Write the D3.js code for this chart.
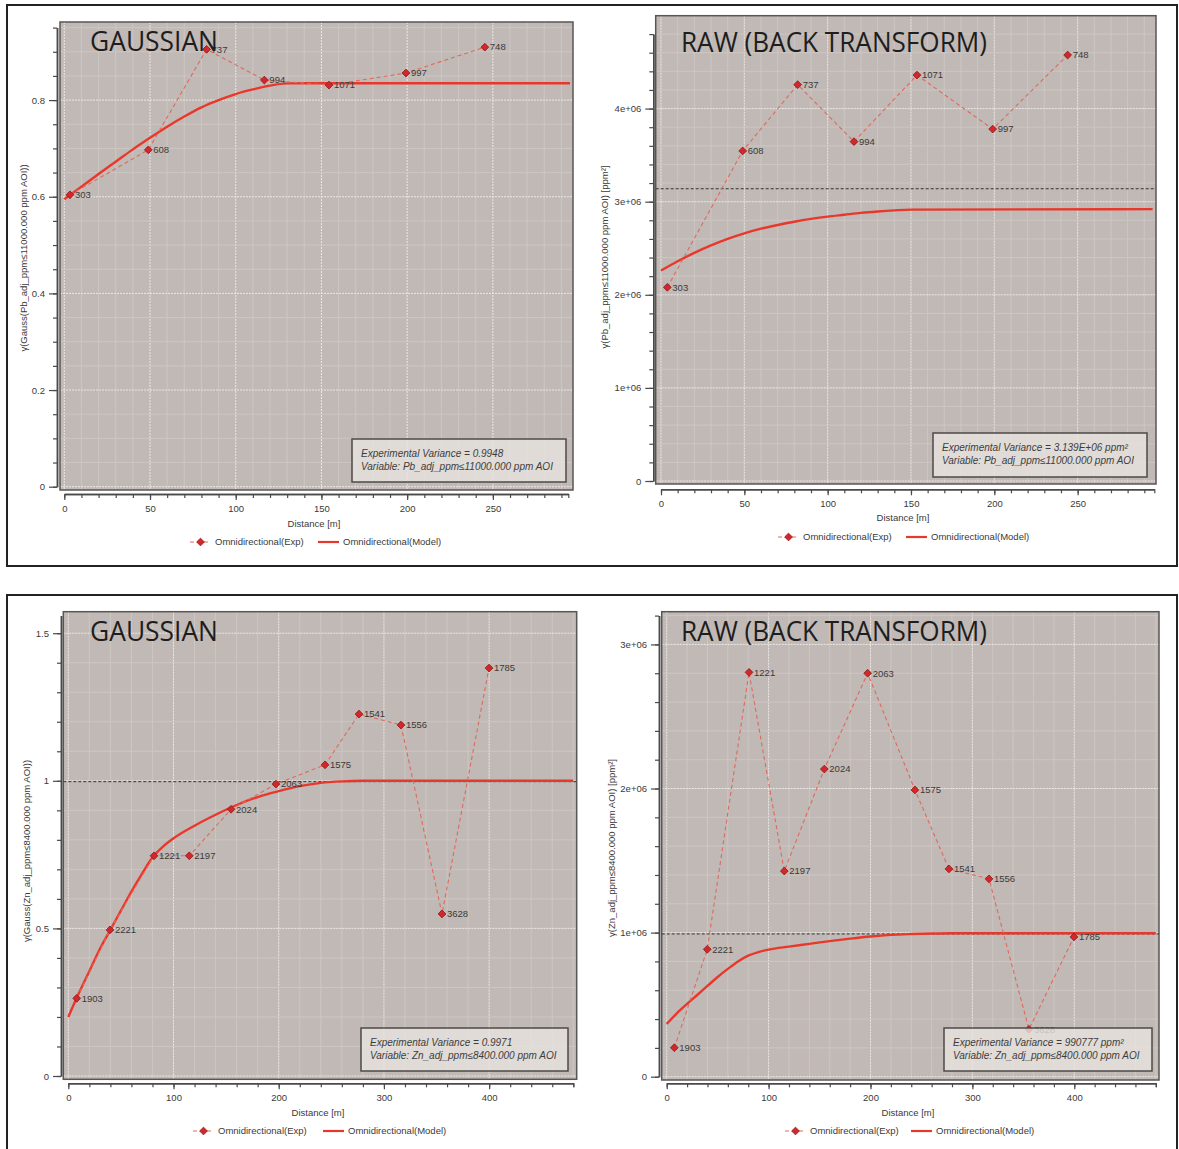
<!DOCTYPE html>
<html><head><meta charset="utf-8">
<script src="https://cdn.jsdelivr.net/npm/d3@7"></script>
<style>body{margin:0;background:#fff;} svg{display:block;}</style>
</head><body><svg id="c" width="1179" height="1149"></svg>
<script>
// ---------------- DATA ----------------
const pbPairs = ["303","608","737","994","1071","997","748"];
const pbGaussLag = [3.3, 49, 83, 116.7, 154.4, 199.3, 245.3];
const pbGaussGamma = [0.604, 0.697, 0.905, 0.8415, 0.831, 0.856, 0.9095];
const pbGaussModelLag = [0,10,20,30,40,50,60,70,80,90,100,110,120,130,140,295];
const pbGaussModelGamma = [0.595,0.621,0.647,0.6725,0.698,0.722,0.745,0.766,0.785,0.80,0.8125,0.822,0.83,0.8345,0.835,0.835];

const pbRawLag = [3.8, 49, 82, 115.8, 153.6, 199, 244];
const pbRawGamma = [2.08e6, 3.545e6, 4.257e6, 3.645e6, 4.36e6, 3.78e6, 4.575e6];
const pbRawModelLag = [0,10,20,30,40,50,60,70,80,90,100,110,120,130,140,150,295];
const pbRawModelGamma = [2.26e6,2.36e6,2.45e6,2.53e6,2.60e6,2.66e6,2.71e6,2.75e6,2.785e6,2.815e6,2.84e6,2.86e6,2.88e6,2.895e6,2.907e6,2.915e6,2.92e6];
const pbRawSill = 3.139e6;

const znPairs = ["1903","2221","1221","2197","2024","2063","1575","1541","1556","3628","1785"];
const znGaussLag = [8, 39.6, 81.5, 115, 154.7, 197.4, 244, 276.3, 316.2, 355.2, 399.9];
const znGaussGamma = [0.263, 0.495, 0.746, 0.746, 0.9035, 0.989, 1.054, 1.226, 1.189, 0.549, 1.382];
const znGaussModelLag = [0,10,20,30,40,50,60,70,80,90,100,120,140,160,180,200,220,240,260,280,480];
const znGaussModelGamma = [0.2,0.28,0.355,0.43,0.495,0.56,0.625,0.685,0.74,0.777,0.805,0.848,0.885,0.918,0.945,0.965,0.982,0.993,0.998,1.0,1.0];
const znGaussSill = 0.9971;

const znRawLag = [7.5, 39.8, 80.8, 115.4, 154.7, 197.2, 243.6, 277, 316.3, 355.5, 399.7];
const znRawGamma = [0.201e6, 0.884e6, 2.806e6, 1.427e6, 2.135e6, 2.80e6, 1.99e6, 1.442e6, 1.373e6, 0.329e6, 0.97e6];
const znRawModelLag = [0,10,20,30,40,50,60,70,80,90,100,120,140,160,180,200,220,240,260,280,480];
const znRawModelGamma = [0.366e6,0.44e6,0.505e6,0.567e6,0.63e6,0.692e6,0.748e6,0.80e6,0.84e6,0.865e6,0.882e6,0.903e6,0.922e6,0.941e6,0.958e6,0.973e6,0.984e6,0.99e6,0.994e6,0.996e6,0.996e6];
const znRawSill = 990777;

const titles = ["GAUSSIAN", "RAW (BACK TRANSFORM)", "GAUSSIAN", "RAW (BACK TRANSFORM)"];
const yTitles = ["γ(Gauss(Pb_adj_ppm≤11000.000 ppm AOI))", "γ(Pb_adj_ppm≤11000.000 ppm AOI) [ppm²]",
                 "γ(Gauss(Zn_adj_ppm≤8400.000 ppm AOI))", "γ(Zn_adj_ppm≤8400.000 ppm AOI) [ppm²]"];
const infoLines = [
  ["Experimental Variance = 0.9948", "Variable: Pb_adj_ppm≤11000.000 ppm AOI"],
  ["Experimental Variance = 3.139E+06 ppm²", "Variable: Pb_adj_ppm≤11000.000 ppm AOI"],
  ["Experimental Variance = 0.9971", "Variable: Zn_adj_ppm≤8400.000 ppm AOI"],
  ["Experimental Variance = 990777 ppm²", "Variable: Zn_adj_ppm≤8400.000 ppm AOI"]];
const xTitle = "Distance [m]";
const legendLabels = ["Omnidirectional(Exp)", "Omnidirectional(Model)"];

// ---------------- DRAW ----------------
const svg = d3.select("#c");
const FONT = "'Liberation Sans', Arial, sans-serif";
const BG = "#c1b9b5";

svg.append("rect").attr("x",0).attr("y",0).attr("width",1179).attr("height",1149).attr("fill","#fff");
svg.append("rect").attr("x",7).attr("y",5).attr("width",1170).attr("height",561).attr("fill","none").attr("stroke","#222").attr("stroke-width",2);
svg.append("rect").attr("x",7).attr("y",595).attr("width",1170).attr("height",570).attr("fill","none").attr("stroke","#222").attr("stroke-width",2);

const sciFmt = v => v === 0 ? "0" : (v/1e6) + "e+06";

const panels = [
  {lag: pbGaussLag, gamma: pbGaussGamma, pairs: pbPairs, mLag: pbGaussModelLag, mGamma: pbGaussModelGamma, sill: null,
   plot:[60,22,573,490], xDom:[0,294], xRan:[64.3,568.3], yDom:[0,0.95], yRan:[486.7,27.6],
   xMinor:10, xMajor:50, yMinor:0.05, yMajor:0.2, fmt: v => String(+v.toFixed(2)),
   yAxisX:57, xAxisY:494, title:[90,51], yTitle:[27,258], xTitleXY:[314,527], info:[352,439,566,482],
   legend:[190,542], legend2:318, idx:0},
  {lag: pbRawLag, gamma: pbRawGamma, pairs: pbPairs, mLag: pbRawModelLag, mGamma: pbRawModelGamma, sill: pbRawSill,
   plot:[655.7,15.7,1156,484], xDom:[0,296], xRan:[661,1154.3], yDom:[0,4.8e6], yRan:[481,34.1],
   xMinor:10, xMajor:50, yMinor:0.2e6, yMajor:1e6, fmt: sciFmt,
   yAxisX:653.3, xAxisY:489.3, title:[681,52], yTitle:[608,257], xTitleXY:[903,521], info:[933,433,1147,477],
   legend:[778,537], legend2:906, idx:1},
  {lag: znGaussLag, gamma: znGaussGamma, pairs: znPairs, mLag: znGaussModelLag, mGamma: znGaussModelGamma, sill: znGaussSill,
   plot:[63.3,611.7,576.7,1079.3], xDom:[0,480], xRan:[68.3,573.3], yDom:[0,1.56], yRan:[1076,615.5],
   xMinor:20, xMajor:100, yMinor:0.1, yMajor:0.5, fmt: v => String(+v.toFixed(2)),
   yAxisX:61, xAxisY:1083.3, title:[90,641], yTitle:[30,851], xTitleXY:[318,1116], info:[361,1028,568,1071],
   legend:[193,1131], legend2:323, idx:2},
  {lag: znRawLag, gamma: znRawGamma, pairs: znPairs, mLag: znRawModelLag, mGamma: znRawModelGamma, sill: znRawSill,
   plot:[661.7,611.7,1159,1080], xDom:[0,480], xRan:[666.7,1155.8], yDom:[0,3.2e6], yRan:[1076.7,615.6],
   xMinor:20, xMajor:100, yMinor:0.2e6, yMajor:1e6, fmt: sciFmt,
   yAxisX:659, xAxisY:1083.3, title:[681,641], yTitle:[615,848], xTitleXY:[908,1116], info:[944,1028,1152,1071],
   legend:[785,1131], legend2:911, idx:3}
];

function steps(max, step) {
  const n = Math.floor(max/step + 1e-6);
  return d3.range(0, n+1).map(i => +(i*step).toFixed(6));
}
const diamond = d3.symbol().type(d3.symbolSquare).size(30);
function marker(sel) {
  sel.attr("d", diamond).attr("fill","#d4262b").attr("stroke","#8e1b1b").attr("stroke-width",0.8);
}

panels.forEach((p, k) => {
  const g = svg.append("g");
  const x = d3.scaleLinear().domain(p.xDom).range(p.xRan);
  const y = d3.scaleLinear().domain(p.yDom).range(p.yRan);
  const [px0, py0, px1, py1] = p.plot;

  g.append("rect").attr("x",px0).attr("y",py0).attr("width",px1-px0).attr("height",py1-py0)
    .attr("fill",BG);

  const clipId = "clip"+k;
  g.append("clipPath").attr("id",clipId).append("rect")
    .attr("x",px0).attr("y",py0).attr("width",px1-px0).attr("height",py1-py0);

  const xs = steps(p.xDom[1], p.xMinor), ys = steps(p.yDom[1], p.yMinor);
  const isMajX = d => Math.abs(d % p.xMajor) < 1e-6;
  const isMajY = d => Math.abs((d/p.yMajor) - Math.round(d/p.yMajor)) < 1e-6;
  const grid = g.append("g").attr("clip-path",`url(#${clipId})`);
  grid.selectAll(".gx").data(xs).join("line")
    .attr("x1",d=>x(d)).attr("x2",d=>x(d)).attr("y1",py0).attr("y2",py1)
    .attr("stroke", d => isMajX(d) ? "#ece8e6" : "#cdc6c2")
    .attr("stroke-width",1)
    .attr("stroke-dasharray", d => isMajX(d) ? "2,1" : null);
  grid.selectAll(".gy").data(ys).join("line")
    .attr("y1",d=>y(d)).attr("y2",d=>y(d)).attr("x1",px0).attr("x2",px1)
    .attr("stroke", d => isMajY(d) ? "#ece8e6" : "#cdc6c2")
    .attr("stroke-width",1)
    .attr("stroke-dasharray", d => isMajY(d) ? "2,1" : null);

  g.append("rect").attr("x",px0).attr("y",py0).attr("width",px1-px0).attr("height",py1-py0)
    .attr("fill","none").attr("stroke","#5a5654").attr("stroke-width",1.5);

  const yMajorVals = steps(p.yDom[1], p.yMajor);
  const xMajorVals = steps(p.xDom[1], p.xMajor);
  const yAxisMinor = d3.axisLeft(y).tickValues(ys).tickSize(4).tickSizeOuter(0).tickFormat("");
  const yAxisMajor = d3.axisLeft(y).tickValues(yMajorVals).tickSize(8).tickSizeOuter(0).tickPadding(4).tickFormat(p.fmt);
  const xAxisMinor = d3.axisBottom(x).tickValues(xs.concat([p.xDom[1]])).tickSize(4).tickSizeOuter(0).tickFormat("");
  const xAxisMajor = d3.axisBottom(x).tickValues(xMajorVals).tickSize(6).tickSizeOuter(0).tickPadding(5).tickFormat(d3.format("d"));
  [yAxisMinor, yAxisMajor].forEach(a => {
    const ag = g.append("g").attr("transform",`translate(${p.yAxisX},0)`).call(a);
    ag.select(".domain").attr("stroke","#4a4a4a").attr("stroke-width",1.5);
    ag.selectAll(".tick line").attr("stroke","#4a4a4a").attr("stroke-width",1.2);
    ag.selectAll("text").attr("fill","#3a3a3a").style("font-family",FONT).style("font-size","9.5px");
  });
  [xAxisMinor, xAxisMajor].forEach(a => {
    const ag = g.append("g").attr("transform",`translate(0,${p.xAxisY})`).call(a);
    ag.select(".domain").attr("stroke","#4a4a4a").attr("stroke-width",1.5);
    ag.selectAll(".tick line").attr("stroke","#4a4a4a").attr("stroke-width",1.2);
    ag.selectAll("text").attr("fill","#3a3a3a").style("font-family",FONT).style("font-size","9.5px");
  });

  const plotG = g.append("g").attr("clip-path",`url(#${clipId})`);
  if (p.sill !== null) {
    plotG.append("line").attr("x1",px0).attr("x2",px1).attr("y1",y(p.sill)).attr("y2",y(p.sill))
      .attr("stroke","#333").attr("stroke-width",1).attr("stroke-dasharray","3,2");
  }
  const model = p.mLag.map((d,i)=>[d, p.mGamma[i]]);
  plotG.append("path").datum(model)
    .attr("d", d3.line().x(d=>x(d[0])).y(d=>y(d[1])).curve(d3.curveMonotoneX))
    .attr("fill","none").attr("stroke","#e8382c").attr("stroke-width",2.4);
  const exp = p.lag.map((d,i)=>[d, p.gamma[i], p.pairs[i]]);
  plotG.append("path").datum(exp)
    .attr("d", d3.line().x(d=>x(d[0])).y(d=>y(d[1])))
    .attr("fill","none").attr("stroke","#e2685c").attr("stroke-width",1.1).attr("stroke-dasharray","4,3");

  plotG.selectAll(".lab").data(exp).join("text")
    .attr("x",d=>x(d[0])+5).attr("y",d=>y(d[1])).attr("dy","0.35em")
    .attr("fill","#3a3a3a").style("font-family",FONT).style("font-size","9.5px")
    .text(d=>d[2]);
  plotG.selectAll(".pt").data(exp).join("path")
    .attr("transform",d=>`translate(${x(d[0])},${y(d[1])}) rotate(45)`)
    .call(marker);

  const [bx0,by0,bx1,by1] = p.info;
  g.append("rect").attr("x",bx0).attr("y",by0).attr("width",bx1-bx0).attr("height",by1-by0)
    .attr("fill","#e7e3e0").attr("fill-opacity",0.8).attr("stroke","#4e4a48").attr("stroke-width",1.5);
  infoLines[p.idx].forEach((t,i) => {
    g.append("text").attr("x",bx0+9).attr("y",by0+18+i*12.5)
      .attr("fill","#3d3d3d").style("font-family",FONT).style("font-size","10px").style("font-style","italic")
      .text(t);
  });

  g.append("text").attr("x",p.title[0]).attr("y",p.title[1])
    .attr("fill","#1e1e1e").style("font-family","'Open Sans', sans-serif").style("font-size","27px")
    .attr("textLength", p.idx % 2 === 0 ? 128 : 306).attr("lengthAdjust","spacingAndGlyphs")
    .text(titles[p.idx]);

  g.append("text").attr("transform",`translate(${p.yTitle[0]},${p.yTitle[1]}) rotate(-90)`)
    .attr("text-anchor","middle").attr("fill","#3a3a3a").style("font-family",FONT).style("font-size","9.5px")
    .text(yTitles[p.idx]);
  g.append("text").attr("x",p.xTitleXY[0]).attr("y",p.xTitleXY[1]).attr("text-anchor","middle")
    .attr("fill","#3a3a3a").style("font-family",FONT).style("font-size","9.5px").text(xTitle);

  const [lx, ly] = p.legend;
  g.append("line").attr("x1",lx).attr("x2",lx+21).attr("y1",ly).attr("y2",ly)
    .attr("stroke","#e2685c").attr("stroke-width",1.1).attr("stroke-dasharray","4,3");
  g.append("path").attr("transform",`translate(${lx+10.5},${ly}) rotate(45)`).call(marker);
  g.append("text").attr("x",lx+25).attr("y",ly).attr("dy","0.35em")
    .attr("fill","#3a3a3a").style("font-family",FONT).style("font-size","9.5px").text(legendLabels[0]);
  g.append("line").attr("x1",p.legend2).attr("x2",p.legend2+21).attr("y1",ly).attr("y2",ly)
    .attr("stroke","#e8382c").attr("stroke-width",2.2);
  g.append("text").attr("x",p.legend2+25).attr("y",ly).attr("dy","0.35em")
    .attr("fill","#3a3a3a").style("font-family",FONT).style("font-size","9.5px").text(legendLabels[1]);
});
</script>
</body></html>
